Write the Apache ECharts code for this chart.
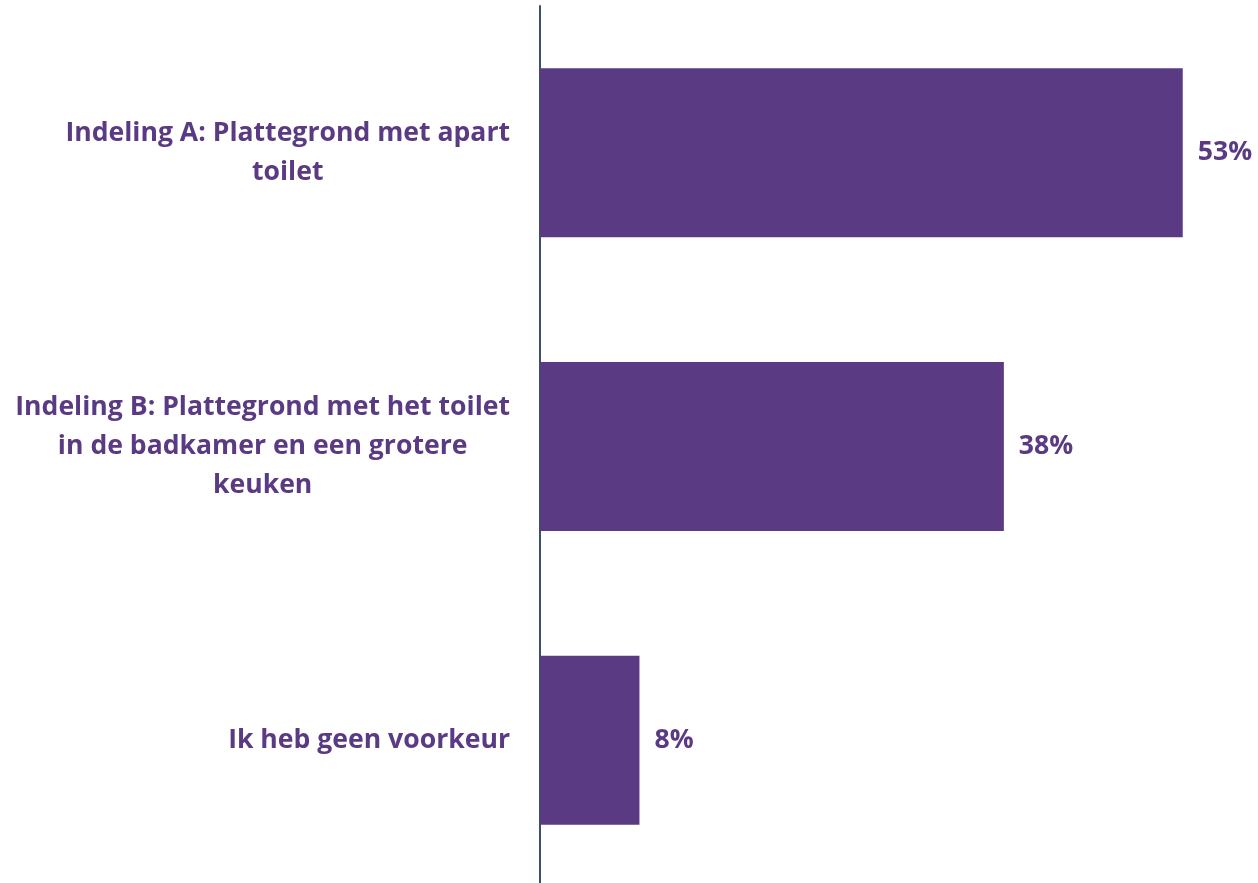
<!DOCTYPE html>
<html>
<head>
<meta charset="utf-8">
<script src="https://cdn.jsdelivr.net/npm/echarts@6/dist/echarts.min.js"></script>
<style>
html,body{margin:0;padding:0;background:#fff;}
#chart{width:1258px;height:883px;}
</style>
</head>
<body>
<div id="chart"></div>
<script>
const categories = [
  'Indeling A: Plattegrond met apart\ntoilet',
  'Indeling B: Plattegrond met het toilet\nin de badkamer en een grotere\nkeuken',
  'Ik heb geen voorkeur'
];
const values = [53, 38.25, 8.2];

const purple = '#5b3a84';
const fontFamily = '"Open Sans", "Noto Sans", sans-serif';
const fs = 26.6;

const chart = echarts.init(document.getElementById('chart'), null, {renderer: 'canvas'});
chart.setOption({
  animation: false,
  backgroundColor: '#ffffff',
  grid: {left: 540, top: 6, right: 51, height: 881, containLabel: false, outerBoundsMode: 'none'},
  xAxis: {
    type: 'value', min: 0, max: 55,
    show: false,
    splitLine: {show: false}
  },
  yAxis: {
    type: 'category',
    data: categories,
    inverse: true,
    axisLine: {show: true, lineStyle: {color: '#3b5070', width: 2}},
    axisTick: {show: false},
    axisLabel: {
      margin: 30,
      color: purple,
      fontFamily: fontFamily,
      fontWeight: 'bold',
      fontSize: fs,
      lineHeight: 39,
      formatter: function (v) {
        return v.split('\n').map(function (l) { return '{c|' + l + '}'; }).join('\n');
      },
      rich: {
        c: {align: 'center', color: purple, fontFamily: fontFamily, fontWeight: 'bold', fontSize: fs, lineHeight: 39}
      }
    }
  },
  series: [{
    type: 'bar',
    data: values,
    barWidth: 169,
    itemStyle: {color: purple},
    label: {
      show: true,
      position: 'right',
      distance: 15,
      color: purple,
      fontFamily: fontFamily,
      fontWeight: 'bold',
      fontSize: fs,
      formatter: function (p) { return Math.round(p.value) + '%'; }
    }
  }]
});
</script>
</body>
</html>
